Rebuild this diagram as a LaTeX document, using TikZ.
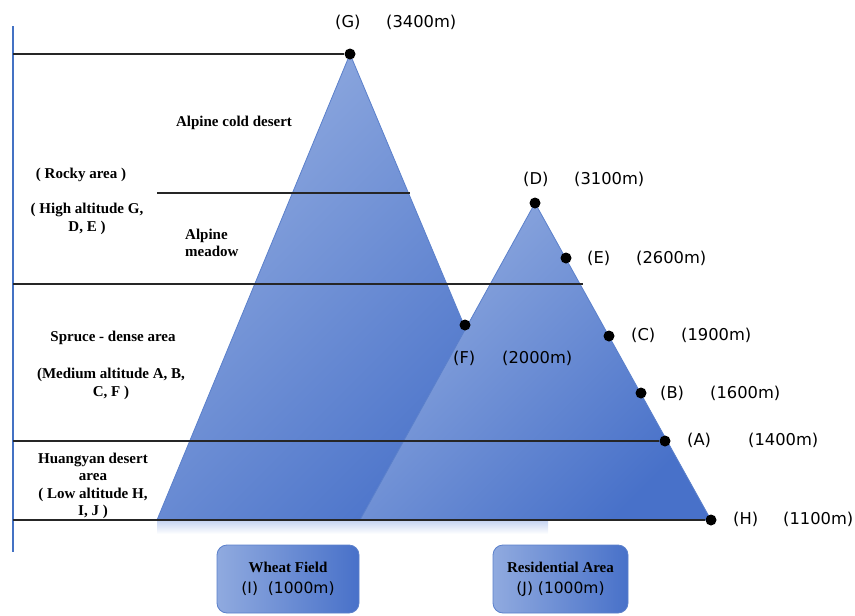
\documentclass[tikz,border=0pt]{standalone}
\usepackage{fontspec}
\setmainfont{Liberation Serif}
\newfontfamily\lblfont{DejaVu Sans}
\usetikzlibrary{backgrounds}
\definecolor{mtlight}{HTML}{90AADF}
\definecolor{mtdark}{HTML}{4871C9}
\definecolor{mtedge}{HTML}{5B80CB}
\definecolor{axisblue}{HTML}{4472C4}
\definecolor{glow}{HTML}{C3D2F1}
\tikzset{
	dot/.style={circle,fill=black,inner sep=0pt,minimum size=11pt},
	lbl/.style={anchor=west,inner sep=0pt,font=\lblfont\fontsize{16.3}{19}\selectfont},
	zone/.style={align=center,inner sep=0pt,font=\bfseries\fontsize{15}{17.5}\selectfont},
	hline/.style={line width=1.3pt,black!85},
	mount/.style={draw=mtedge,line width=0.8pt,top color=mtlight,bottom color=mtdark,shading angle=45},
	place/.style={draw=mtedge,line width=0.8pt,rounded corners=10pt,left color=mtlight,right color=mtdark,
		minimum height=68pt,align=center,font=\fontsize{15}{21}\selectfont}
}
\begin{document}
\begin{tikzpicture}[x=1pt,y=-1pt]
	\useasboundingbox (0,0) rectangle (855,616);
	\node[dot] (g) at (350,54) {};
	\node[dot] (d) at (535,203) {};
	\node[dot] (e) at (566,258) {};
	\node[dot] (f) at (465,325) {};
	\node[dot] (c) at (609,336) {};
	\node[dot] (b) at (641,393) {};
	\node[dot] (a) at (665,441) {};
	\node[dot] (h) at (711,520) {};
	\node[lbl] (gname) at (335,22) {(G)};
	\node[lbl] (galt) at (386,22) {(3400m)};
	\node[lbl] (dname) at (523,179) {(D)};
	\node[lbl] (dalt) at (574,179) {(3100m)};
	\node[lbl] (ename) at (587,258) {(E)};
	\node[lbl] (ealt) at (636,258) {(2600m)};
	\node[lbl] (fname) at (453,358) {(F)};
	\node[lbl] (falt) at (502,358) {(2000m)};
	\node[lbl] (cname) at (631,335) {(C)};
	\node[lbl] (calt) at (681,335) {(1900m)};
	\node[lbl] (bname) at (660,393) {(B)};
	\node[lbl] (balt) at (710,393) {(1600m)};
	\node[lbl] (aname) at (687,440) {(A)};
	\node[lbl] (aalt) at (748,440) {(1400m)};
	\node[lbl] (hname) at (733,519) {(H)};
	\node[lbl] (halt) at (783,519) {(1100m)};
	\node[zone] (cold) at (234,123) {Alpine cold desert};
	\node[zone] (rocky) at (81,175) {( Rocky area )};
	\node[zone] (high) at (87,219) {( High altitude G,\\D, E )};
	\node[zone,align=left,anchor=west] (meadow) at (185,243) {Alpine\\meadow};
	\node[zone] (spruce) at (113,338) {Spruce - dense area};
	\node[zone] (medium) at (111,384) {(Medium altitude A, B,\\C, F )};
	\node[zone] (huangyan) at (93,486) {Huangyan desert\\area\\( Low altitude H,\\I, J )};
	\node[place,minimum width=142pt] (wheat) at (288,579) {{\bfseries Wheat Field}\\{\lblfont\fontsize{15.5}{18}\selectfont (I)\ \ (1000m)}};
	\node[place,minimum width=135pt] (home) at (560.5,579) {{\bfseries Residential Area}\\{\lblfont\fontsize{15.5}{18}\selectfont (J) (1000m)}};
	\coordinate (axtop) at (13,26);
	\coordinate (axbot) at (13,552);
	\coordinate (ax1) at (13,54);
	\coordinate (ax3) at (13,284);
	\coordinate (ax4) at (13,441);
	\coordinate (ax5) at (13,520);
	\coordinate (rk1) at (157,193);
	\coordinate (rk2) at (410,193);
	\coordinate (md2) at (583,284);
	\coordinate (bigl) at (157,520);
	\coordinate (bigr) at (546,520);
	\coordinate (smalll) at (360,520);
	\draw[axisblue,line width=1.5pt] (axtop) -- (axbot);
	\draw[hline] (ax1) -- (g);
	\draw[hline] (rk1) -- (rk2);
	\draw[hline] (ax3) -- (md2);
	\draw[hline] (ax4) -- (a);
	\draw[hline] (ax5) -- (h);
	\begin{scope}[on background layer]
		\shade[top color=glow,bottom color=white] (bigl) rectangle (548,534);
		\path[mount] (g.center) -- (bigl) -- (bigr) -- cycle;
		\path[mount] (d.center) -- (smalll) -- (h.center) -- cycle;
	\end{scope}
\end{tikzpicture}
\end{document}
